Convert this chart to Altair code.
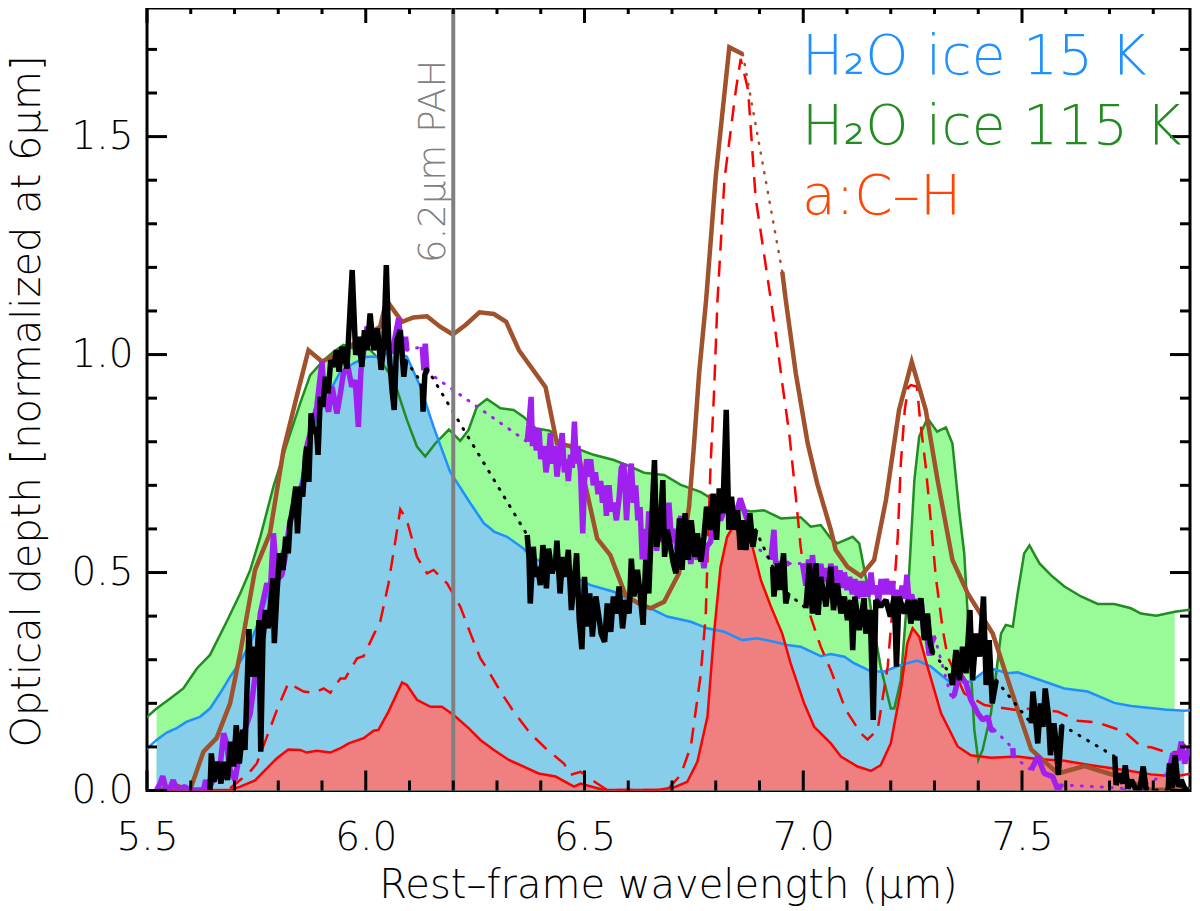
import altair as alt
import pandas as pd

FONT = "DejaVu Sans ExtraLight, DejaVu Sans"
WEIGHT = 200
WL_DOMAIN = [5.5, 7.884]
TAU_DOMAIN = [0, 1.795]
FILL_RANGE = (5.522, 7.878)

ICE15 = [(5.499,.095),(5.522,.116),(5.545,.133),(5.568,.143),(5.591,.158),(5.621,.169),(5.644,.188),(5.667,.223),(5.690,.261),(5.713,.295),(5.736,.338),(5.759,.399),(5.789,.490),(5.812,.559),(5.835,.636),(5.858,.735),(5.881,.834),(5.911,.903),(5.942,.961),(5.972,.980),(6.003,.995),(6.033,.995),(6.064,1.010),(6.094,.995),(6.125,.926),(6.155,.834),(6.193,.731),(6.239,.659),(6.270,.613),(6.285,.601),(6.293,.594),(6.323,.582),(6.361,.555),(6.373,.540),(6.407,.521),(6.460,.498),(6.514,.471),(6.567,.456),(6.605,.437),(6.651,.418),(6.689,.399),(6.743,.387),(6.781,.372),(6.819,.364),(6.861,.345),(6.895,.349),(6.933,.341),(6.964,.334),(6.994,.330),(7.040,.308),(7.063,.313),(7.094,.307),(7.116,.292),(7.155,.273),(7.185,.273),(7.223,.288),(7.261,.298),(7.292,.284),(7.338,.246),(7.383,.250),(7.414,.273),(7.437,.278),(7.467,.269),(7.490,.271),(7.551,.250),(7.597,.234),(7.650,.227),(7.711,.201),(7.749,.194),(7.826,.186),(7.871,.183),(7.898,.185)]

ICE115 = [(5.499,.168),(5.522,.188),(5.553,.211),(5.583,.234),(5.614,.280),(5.644,.311),(5.682,.387),(5.713,.452),(5.736,.506),(5.759,.582),(5.789,.697),(5.820,.796),(5.850,.888),(5.873,.953),(5.904,.987),(5.926,1.006),(5.949,1.022),(5.972,1.014),(6.003,1.018),(6.033,.987),(6.064,.942),(6.094,.850),(6.117,.789),(6.136,.766),(6.159,.796),(6.190,.828),(6.216,.802),(6.235,.827),(6.254,.880),(6.277,.898),(6.308,.877),(6.338,.873),(6.361,.857),(6.388,.831),(6.422,.825),(6.445,.796),(6.491,.781),(6.521,.770),(6.567,.758),(6.605,.743),(6.636,.729),(6.682,.724),(6.720,.701),(6.765,.685),(6.796,.666),(6.849,.647),(6.880,.640),(6.910,.643),(6.949,.624),(6.994,.627),(7.017,.605),(7.040,.609),(7.063,.578),(7.078,.567),(7.113,.582),(7.128,.567),(7.147,.468),(7.162,.368),(7.177,.284),(7.200,.188),(7.208,.188),(7.223,.253),(7.242,.498),(7.254,.712),(7.265,.812),(7.284,.854),(7.306,.823),(7.326,.833),(7.341,.796),(7.357,.636),(7.368,.544),(7.380,.330),(7.391,.139),(7.400,.070),(7.410,.093),(7.429,.177),(7.441,.269),(7.452,.360),(7.463,.380),(7.479,.376),(7.490,.452),(7.505,.544),(7.517,.562),(7.540,.521),(7.566,.494),(7.597,.468),(7.635,.445),(7.673,.428),(7.711,.428),(7.749,.418),(7.772,.406),(7.807,.401),(7.849,.410),(7.879,.414),(7.898,.416)]

ACH = [(5.522,0),(5.690,.001),(5.713,.009),(5.747,.023),(5.770,.047),(5.797,.074),(5.823,.094),(5.850,.093),(5.865,.087),(5.888,.091),(5.919,.087),(5.942,.097),(5.961,.108),(5.995,.120),(6.018,.137),(6.029,.139),(6.052,.181),(6.083,.248),(6.094,.242),(6.117,.208),(6.148,.192),(6.174,.192),(6.201,.173),(6.235,.143),(6.262,.116),(6.293,.093),(6.327,.070),(6.361,.055),(6.395,.039),(6.434,.032),(6.476,.009),(6.491,.016),(6.544,.001),(6.666,.001),(6.704,.007),(6.735,.020),(6.758,.066),(6.781,.169),(6.796,.360),(6.811,.513),(6.826,.582),(6.842,.609),(6.865,.597),(6.884,.559),(6.903,.483),(6.926,.422),(6.952,.360),(6.971,.292),(7.002,.200),(7.025,.146),(7.063,.108),(7.086,.078),(7.124,.055),(7.155,.045),(7.177,.058),(7.200,.108),(7.223,.231),(7.238,.338),(7.250,.372),(7.265,.353),(7.284,.284),(7.315,.177),(7.353,.101),(7.383,.081),(7.429,.075),(7.490,.078),(7.536,.072),(7.597,.068),(7.658,.058),(7.734,.047),(7.795,.037),(7.849,.032),(7.898,.041)]

ACH_DASHED = [(5.690,.005),(5.713,.024),(5.732,.039),(5.751,.062),(5.774,.123),(5.797,.185),(5.823,.246),(5.858,.227),(5.881,.224),(5.904,.234),(5.919,.224),(5.942,.257),(5.953,.257),(5.980,.303),(5.995,.308),(6.018,.357),(6.033,.387),(6.052,.475),(6.068,.575),(6.079,.645),(6.094,.620),(6.117,.536),(6.140,.498),(6.155,.506),(6.186,.475),(6.216,.422),(6.239,.361),(6.262,.303),(6.277,.280),(6.308,.227),(6.338,.181),(6.376,.131),(6.415,.093),(6.453,.062),(6.468,.036),(6.491,.043),(6.529,.016),(6.552,.001),(6.689,.001),(6.720,.036),(6.743,.101),(6.765,.261),(6.777,.399),(6.788,.743),(6.796,.911),(6.804,1.125),(6.820,1.403),(6.846,1.607),(6.857,1.678),(6.874,1.607),(6.891,1.361),(6.926,1.125),(6.937,1.049),(6.952,.934),(6.968,.819),(6.983,.674),(6.994,.559),(7.017,.398),(7.040,.330),(7.063,.276),(7.097,.185),(7.132,.131),(7.147,.117),(7.170,.139),(7.193,.284),(7.208,.468),(7.216,.582),(7.223,.750),(7.232,.873),(7.240,.925),(7.246,.930),(7.260,.926),(7.267,.850),(7.280,.743),(7.292,.613),(7.303,.490),(7.319,.368),(7.330,.307),(7.368,.223),(7.414,.196),(7.483,.185),(7.521,.188),(7.582,.181),(7.627,.160),(7.673,.156),(7.696,.148),(7.734,.135),(7.772,.101),(7.795,.099),(7.833,.087),(7.856,.089),(7.898,.131)]

BROWN_A = [(5.530,.001),(5.564,.013),(5.598,0),(5.629,.089),(5.659,.120),(5.690,.200),(5.713,.315),(5.747,.506),(5.781,.590),(5.812,.781),(5.842,.903),(5.869,1.010),(5.900,.984),(5.934,1.0),(6.033,1.064),(6.047,1.125),(6.083,1.075),(6.109,1.085),(6.140,1.088),(6.170,1.064),(6.199,1.046),(6.228,1.068),(6.260,1.097),(6.293,1.093),(6.321,1.075),(6.350,1.010),(6.411,.925),(6.437,.796),(6.468,.790),(6.487,.766),(6.506,.682),(6.529,.578),(6.559,.540),(6.594,.448),(6.624,.429),(6.651,.418),(6.682,.433),(6.716,.498),(6.739,.651),(6.750,.789),(6.762,.957),(6.778,1.125),(6.800,1.409),(6.831,1.705),(6.862,1.689)]
BROWN_B = [(6.952,1.19),(6.960,1.125),(6.983,.957),(7.010,.797),(7.032,.704),(7.063,.598),(7.074,.552),(7.101,.513),(7.132,.492),(7.162,.529),(7.189,.666),(7.219,.873),(7.248,.983),(7.280,.873),(7.307,.712),(7.341,.529),(7.376,.452),(7.433,.360),(7.475,.231),(7.521,.094),(7.582,.039),(7.643,.056),(7.711,.035),(7.795,.001),(7.890,.003)]

BLACK = {
 "a": [(5.644,.001),(5.647,.085),(5.653,.020),(5.661,.066),(5.669,.016),(5.675,.066),(5.684,.024),(5.691,.112),(5.698,.055),(5.704,.150),(5.711,.062),(5.719,.139),(5.724,.093),(5.728,.215),(5.733,.370),(5.737,.261),(5.743,.330),(5.750,.261),(5.756,.391),(5.760,.089),(5.765,.345),(5.771,.414),(5.777,.372),(5.783,.437),(5.788,.487),(5.791,.338),(5.797,.452),(5.803,.544),(5.811,.506),(5.817,.582),(5.823,.544),(5.827,.613),(5.835,.659),(5.840,.697),(5.844,.590),(5.850,.697),(5.856,.674),(5.862,.766),(5.865,.789),(5.870,.708),(5.875,.865),(5.881,.819),(5.887,.834),(5.891,.770),(5.896,.903),(5.902,.880),(5.908,.949),(5.914,.911),(5.920,.987),(5.927,.972),(5.933,1.010),(5.939,.961),(5.946,1.018),(5.957,.968),(5.969,1.194),(5.977,.999),(5.984,1.041),(5.991,.972),(5.997,1.056),(6.003,1.010),(6.010,1.094),(6.018,1.010),(6.027,1.060),(6.035,.965),(6.041,1.018),(6.047,1.205),(6.053,1.010),(6.060,.919),(6.065,.873),(6.071,1.033),(6.079,1.056),(6.087,.949),(6.091,.987)],
 "b": [(6.129,.934),(6.131,.869),(6.135,.953),(6.140,.968)],
 "c": [(6.369,.586),(6.373,.536),(6.376,.429),(6.383,.559),(6.388,.490),(6.393,.513),(6.399,.471),(6.405,.563),(6.413,.464),(6.418,.555),(6.426,.498),(6.434,.529),(6.437,.573),(6.444,.452),(6.450,.536),(6.457,.490),(6.463,.552),(6.470,.414),(6.476,.475),(6.482,.544),(6.488,.391),(6.494,.324),(6.500,.490),(6.506,.376),(6.512,.452),(6.518,.353),(6.526,.445),(6.534,.391),(6.538,.360),(6.546,.341),(6.552,.429),(6.560,.364),(6.566,.445),(6.573,.406),(6.579,.468),(6.587,.372),(6.594,.437),(6.602,.406),(6.607,.532),(6.613,.445),(6.621,.506),(6.627,.452),(6.634,.380),(6.640,.529),(6.647,.452),(6.653,.605),(6.660,.758),(6.665,.559),(6.673,.605),(6.679,.712),(6.683,.536),(6.689,.598),(6.695,.567),(6.703,.521),(6.709,.498),(6.717,.624),(6.723,.506),(6.730,.636),(6.737,.529),(6.744,.620),(6.752,.536),(6.758,.590),(6.766,.525),(6.773,.582),(6.779,.651),(6.788,.598),(6.794,.681),(6.802,.575),(6.808,.693),(6.816,.636),(6.824,.873),(6.830,.598),(6.836,.674),(6.843,.598),(6.850,.643),(6.856,.552),(6.862,.620),(6.869,.552),(6.878,.636),(6.885,.559),(6.891,.598)],
 "d": [(6.930,.513),(6.933,.445),(6.941,.521),(6.947,.460),(6.955,.544),(6.960,.429),(6.965,.452)],
 "e": [(7.006,.418),(7.014,.521),(7.021,.406),(7.029,.521),(7.034,.403),(7.040,.490),(7.052,.422),(7.063,.513),(7.069,.414),(7.078,.475),(7.086,.406),(7.094,.445),(7.101,.391),(7.109,.437),(7.113,.322),(7.118,.445),(7.128,.368),(7.139,.441),(7.143,.360),(7.153,.414),(7.160,.162),(7.166,.437),(7.177,.422),(7.189,.437),(7.199,.399),(7.208,.445),(7.213,.284),(7.219,.445),(7.231,.406),(7.240,.437),(7.246,.383),(7.254,.437),(7.260,.391),(7.269,.441),(7.277,.345),(7.284,.406),(7.290,.338),(7.296,.315)],
 "f": [(7.336,.269),(7.341,.242),(7.349,.322),(7.357,.253),(7.364,.330),(7.372,.269),(7.381,.414),(7.387,.253),(7.395,.360),(7.403,.307),(7.412,.445),(7.418,.242),(7.425,.345),(7.432,.200),(7.441,.253)],
 "g": [(7.521,.154),(7.525,.227),(7.530,.177),(7.536,.108),(7.542,.200),(7.548,.146),(7.553,.234),(7.560,.177),(7.565,.081),(7.573,.154),(7.578,.108),(7.583,.036),(7.591,.150)],
 "h": [(7.712,.078),(7.715,.013),(7.723,.039),(7.731,.016),(7.736,.058),(7.742,.005),(7.750,.024),(7.761,.001),(7.769,.001),(7.777,.055),(7.784,.001)],
 "i": [(7.834,.001),(7.837,.062),(7.843,.005),(7.850,.081),(7.857,.009),(7.864,.024),(7.872,.005),(7.879,.001)],
}
BLACK_GAPS = [[(6.091,.987),(6.129,.934)],[(6.140,.968),(6.369,.586)],[(6.891,.598),(6.930,.513)],[(6.965,.452),(7.006,.418)],[(7.296,.315),(7.336,.269)],[(7.441,.253),(7.521,.154)],[(7.591,.150),(7.712,.078)],[(7.784,.001),(7.834,.001)]]

PURPLE = {
 "a": [(5.522,.001),(5.530,.016),(5.536,.033),(5.544,.001),(5.553,.005),(5.560,.024),(5.568,.001),(5.587,.009),(5.595,.001),(5.629,.001),(5.634,.024),(5.640,.001),(5.667,.055),(5.675,.131),(5.682,.108),(5.690,.047),(5.701,.024),(5.707,.058),(5.721,.131),(5.736,.177),(5.747,.261),(5.759,.406),(5.774,.475),(5.782,.460),(5.789,.590),(5.797,.483),(5.808,.494),(5.816,.536),(5.827,.620),(5.843,.651),(5.858,.712),(5.866,.792),(5.873,.819),(5.888,.880),(5.900,.984),(5.905,.903),(5.915,.869),(5.923,.926),(5.934,.865),(5.942,.911),(5.949,.957),(5.959,.974),(5.968,.926),(5.976,.941),(5.983,.834),(5.989,.964),(6.003,1.064),(6.018,1.025),(6.049,1.025),(6.060,1.003),(6.075,1.083),(6.083,1.003),(6.091,1.041),(6.094,1.010)],
 "b": [(6.129,1.018),(6.133,.964),(6.136,1.025),(6.140,.961)],
 "c": [(6.369,.80),(6.373,.84),(6.378,.903),(6.381,.79),(6.384,.83),(6.39,.78),(6.396,.83),(6.40,.76),(6.407,.79),(6.412,.73),(6.418,.77),(6.422,.82),(6.426,.75),(6.432,.79),(6.437,.72),(6.443,.77),(6.449,.82),(6.454,.73),(6.459,.76),(6.463,.71),(6.468,.77),(6.472,.74),(6.477,.846),(6.481,.75),(6.485,.79),(6.491,.73),(6.496,.59),(6.5,.71),(6.505,.76),(6.51,.72),(6.514,.76),(6.52,.70),(6.525,.73),(6.531,.68),(6.537,.71),(6.541,.66),(6.546,.70),(6.55,.63),(6.556,.70),(6.561,.64),(6.567,.66),(6.573,.62),(6.579,.67),(6.584,.74),(6.59,.75),(6.596,.62),(6.601,.70),(6.607,.75),(6.612,.66),(6.617,.70),(6.622,.62),(6.627,.65),(6.632,.53),(6.636,.60),(6.641,.52),(6.647,.64),(6.653,.56),(6.659,.60),(6.665,.55),(6.67,.61),(6.674,.57),(6.68,.62),(6.686,.58),(6.693,.66),(6.699,.57),(6.705,.60),(6.712,.55),(6.72,.63),(6.727,.54),(6.735,.58),(6.743,.52),(6.75,.58),(6.758,.53),(6.766,.56),(6.773,.51),(6.78,.56),(6.788,.57),(6.8,.64),(6.811,.62),(6.825,.66),(6.842,.62),(6.856,.67),(6.872,.62),(6.884,.567)],
 "d": [(6.926,.529),(6.933,.598),(6.937,.521),(6.968,.521)],
 "e": [(6.998,.521),(7.003,.49),(7.006,.47),(7.012,.53),(7.017,.49),(7.021,.54),(7.025,.50),(7.03,.52),(7.036,.49),(7.04,.52),(7.046,.48),(7.052,.51),(7.058,.47),(7.063,.52),(7.068,.49),(7.073,.515),(7.078,.47),(7.084,.505),(7.09,.465),(7.094,.50),(7.1,.46),(7.106,.49),(7.112,.45),(7.118,.485),(7.124,.44),(7.13,.48),(7.136,.445),(7.142,.48),(7.148,.445),(7.155,.50),(7.16,.45),(7.166,.47),(7.172,.43),(7.178,.485),(7.184,.45),(7.19,.485),(7.196,.45),(7.202,.48),(7.208,.44),(7.214,.46),(7.22,.43),(7.226,.47),(7.232,.44),(7.237,.495),(7.242,.43),(7.248,.45),(7.254,.41),(7.26,.44),(7.265,.39),(7.27,.43),(7.276,.35),(7.282,.36),(7.288,.31),(7.294,.34),(7.3,.353)],
 "f": [(7.338,.215),(7.345,.219),(7.357,.269),(7.372,.246),(7.383,.208),(7.399,.177),(7.410,.162),(7.422,.169),(7.429,.139),(7.437,.139)],
 "g": [(7.479,.097),(7.480,.078)],
 "h": [(7.521,.047),(7.536,.078),(7.551,.039),(7.570,.032),(7.582,.001),(7.590,.013)],
 "i": [(7.734,.005),(7.738,.001)],
 "j": [(7.769,.001),(7.784,.016)],
 "k": [(7.834,.039),(7.845,.085),(7.857,.070),(7.864,.112),(7.872,.062),(7.883,.101)],
}
PURPLE_GAPS = [[(6.094,1.010),(6.129,1.018)],[(6.140,.961),(6.369,.80)],[(6.884,.567),(6.926,.529)],[(6.968,.521),(6.998,.521)],[(7.300,.353),(7.338,.215)],[(7.437,.139),(7.479,.097)],[(7.480,.078),(7.521,.047)],[(7.590,.013),(7.734,.005)],[(7.784,.016),(7.834,.039)],[(7.883,.101),(7.898,.140)]]
BROWN_GAP = [(6.862,1.689),(6.952,1.19)]

X_MAJOR = [5.5, 6.0, 6.5, 7.0, 7.5]
X_MINOR = [5.6,5.7,5.8,5.9,6.1,6.2,6.3,6.4,6.6,6.7,6.8,6.9,7.1,7.2,7.3,7.4,7.6,7.7,7.8]
Y_MAJOR = [0.0, 0.5, 1.0, 1.5]
Y_MINOR = [.1,.2,.3,.4,.6,.7,.8,.9,1.1,1.2,1.3,1.4,1.6,1.7]
PAH_WL = [6.2]

W, H = 1043, 782.5
x_scale = alt.Scale(domain=WL_DOMAIN, nice=False, zero=False)
y_scale = alt.Scale(domain=TAU_DOMAIN, nice=False, zero=False)
x_axis = alt.Axis(
    values=X_MAJOR, format=".1f", title="Rest–frame wavelength (µm)", domain=False, ticks=False, grid=False,
    labelFontSize=39, labelFont=FONT, labelFontWeight=WEIGHT, labelColor="black", labelBaseline="alphabetic",
    labelPadding=59, labelFlush=False, labelOverlap=False,
    titleFontSize=40, titleFont=FONT, titleFontWeight=WEIGHT, titleColor="black", titleBaseline="alphabetic",
    titleX=521, titleY=107)
y_axis = alt.Axis(
    values=Y_MAJOR, format=".1f", title="Optical depth [normalized at 6µm]", domain=False, ticks=False, grid=False,
    labelFontSize=39, labelFont=FONT, labelFontWeight=WEIGHT, labelColor="black", labelPadding=14, labelFlush=False,
    labelOverlap=False, titleFontSize=40, titleFont=FONT, titleFontWeight=WEIGHT, titleColor="black",
    titleBaseline="alphabetic", titleX=-108, titleY=393)
X = alt.X("w:Q", scale=x_scale, axis=x_axis)
Y = alt.Y("t:Q", scale=y_scale, axis=y_axis)

def df(points):
    return pd.DataFrame(points, columns=["w", "t"])

def multi(groups):
    rows = [(k, a, b) for k, pts in groups for a, b in pts]
    return pd.DataFrame(rows, columns=["k", "w", "t"])

def fill(points, colour):
    d = df(points)
    d = d[(d.w >= FILL_RANGE[0]) & (d.w <= FILL_RANGE[1])]
    return alt.Chart(d).mark_area(color=colour, opacity=1, clip=True).encode(x=X, y=Y, y2=alt.datum(0))

def line(points, colour, width, **kw):
    return alt.Chart(df(points)).mark_line(color=colour, strokeWidth=width, clip=True, **kw).encode(x=X, y=Y, order=alt.Order("w:Q"))

def lines(groups, colour, width, **kw):
    return alt.Chart(multi(groups)).mark_line(color=colour, strokeWidth=width, clip=True, **kw).encode(x=X, y=Y, detail="k:N", order=alt.Order("w:Q"))

DOT = dict(strokeDash=[1, 9], strokeCap="round")
black_gaps = [(str(i), g) for i, g in enumerate(BLACK_GAPS)]
purple_gaps = [(str(i), g) for i, g in enumerate(PURPLE_GAPS)]

layers = [
    fill(ICE115, "#98FB98"),
    fill(ICE15, "#87CEEB"),
    fill(ACH, "#F08080"),
    line(ICE115, "#228B22", 2.5),
    line(ICE15, "#1E90FF", 2.5),
    line(ACH, "#FF0000", 2.5),
    line(ACH_DASHED, "#FF0000", 2.5, strokeDash=[16, 10]),
    line(BROWN_A, "#A0522D", 4.5),
    line(BROWN_B, "#A0522D", 4.5),
    line(BROWN_GAP, "#A0522D", 2.5, **DOT),
    lines(purple_gaps, "#A020F0", 3, **DOT),
    lines(list(PURPLE.items()), "#A020F0", 5.5, strokeJoin="bevel"),
    lines(black_gaps, "#000000", 3, **DOT),
    lines(list(BLACK.items()), "#000000", 5.5, strokeJoin="bevel"),
    alt.Chart(pd.DataFrame({"w": PAH_WL})).mark_rule(color="#808080", strokeWidth=4).encode(x=X),
]

def xticks(vals, y0, y1):
    return alt.Chart(pd.DataFrame({"w": vals})).mark_rule(color="black", strokeWidth=3).encode(
        x=X, y=alt.value(y0), y2=alt.value(y1))

def yticks(vals, x0, x1):
    return alt.Chart(pd.DataFrame({"t": vals})).mark_rule(color="black", strokeWidth=3).encode(
        y=Y, x=alt.value(x0), x2=alt.value(x1))

layers += [
    xticks(X_MAJOR, H, H - 20), xticks(X_MINOR, H, H - 10),
    xticks(X_MAJOR, 0, 15), xticks(X_MINOR, 0, 6),
    yticks(Y_MAJOR, 0, 20), yticks(Y_MINOR, 0, 10),
    yticks(Y_MAJOR, W, W - 20), yticks(Y_MINOR, W, W - 10),
]

def text(s, wl, tau, colour, size, **kw):
    return alt.Chart(pd.DataFrame({"w": [wl], "t": [tau], "s": [s]})).mark_text(
        color=colour, fontSize=size, font=FONT, fontWeight=WEIGHT, align="left", baseline="alphabetic", clip=False, **kw
    ).encode(x=X, y=Y, text="s:N")

layers += [
    text("H₂O ice 15 K", 6.997, 1.644, "#1E90FF", 55),
    text("H₂O ice 115 K", 6.997, 1.484, "#228B22", 55),
    text("a:C–H", 6.997, 1.322, "#FF4500", 55),
    text("6.2µm PAH", 6.182, 1.21, "#808080", 37, angle=270),
]

chart = alt.layer(*layers).properties(
    width=W, height=H,
    autosize=alt.AutoSizeParams(type="none"),
    padding={"left": 139, "top": 0, "right": 2, "bottom": 120},
    background="white",
).configure_view(stroke="black", strokeWidth=3)

chart.save("out.html", embed_options={"renderer": "svg", "actions": False})
